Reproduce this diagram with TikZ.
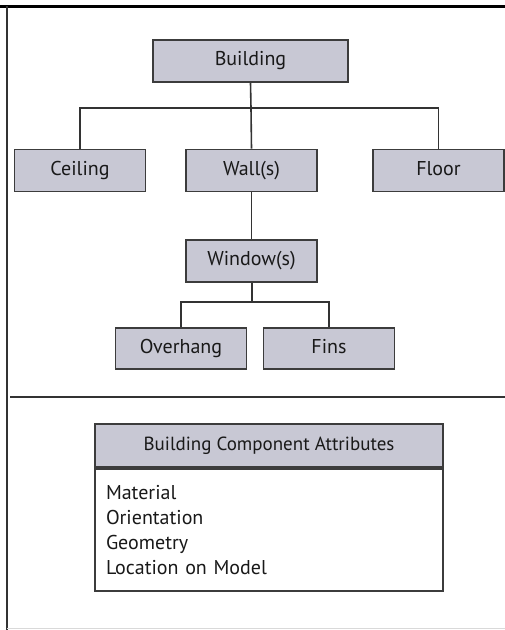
\documentclass[tikz,border=0pt]{standalone}
\usepackage{fontspec}
\setmainfont{PT Sans}
\usepackage{tikz}
\usetikzlibrary{positioning}
\definecolor{boxfill}{RGB}{200,200,212}
\definecolor{edgegray}{RGB}{60,60,60}

\begin{document}
\begin{tikzpicture}[x=1pt, y=-1pt,
    compbox/.style={draw=edgegray, line width=1.8pt, fill=boxfill, minimum width=131pt, minimum height=42pt, inner sep=0pt, text height=14pt, text depth=4.5pt, text=black!90, font=\fontsize{20}{24}\selectfont},
    link/.style={draw=black!80, line width=1.6pt}]
    \useasboundingbox (0,0) rectangle (505,630);

    % Frame
    \draw[line width=2.4pt] (0,6.5) -- (505,6.5);
    \draw[line width=1.2pt, black!80] (7,6) -- (7,630);
    \draw[line width=0.6pt, black!15] (7,628) -- (505,628);

    % Components
    \node[compbox, minimum width=195pt] (building) at (250.5,61) {Building};
    \node[compbox] (ceiling) at (80,170.5) {Ceiling};
    \node[compbox] (wall) at (251.5,170.5) {Wall(s)};
    \node[compbox] (floor) at (438.5,170.5) {Floor};
    \node[compbox] (window) at (251.5,261) {Window(s)};
    \node[compbox, minimum height=41pt] (overhang) at (181,348.5) {Overhang};
    \node[compbox, minimum height=41pt] (fins) at (329,348.5) {Fins};

    % Relationships
    \coordinate (split1) at (251,108);
    \coordinate (split2) at (252,302);
    \draw[link] (building.south) -- (split1);
    \draw[link] (ceiling.north) |- (split1) -| (floor.north);
    \draw[link] (split1) -- (wall.north);
    \draw[link] (wall.south) -- (window.north);
    \draw[link] (window.south -| split2) -- (split2);
    \draw[link] (overhang.north) |- (split2) -| (fins.north);

    % Separator
    \draw[line width=1.6pt, black!80] (10,397) -- (505,397);

    % Attributes
    \node[compbox, minimum width=348pt, minimum height=43pt, font=\fontsize{19}{22}\selectfont] (attrhead) at (269,445.5) {Building Component Attributes};
    \node[draw=edgegray, line width=1.8pt, fill=white, below=0pt of attrhead, text width=326pt, inner xsep=11pt, inner ysep=0pt, minimum height=122pt, align=left, text=black!90, font=\fontsize{20}{25}\selectfont] (attrbody) {Material\\Orientation\\Geometry\\Location on Model};
\end{tikzpicture}
\end{document}
